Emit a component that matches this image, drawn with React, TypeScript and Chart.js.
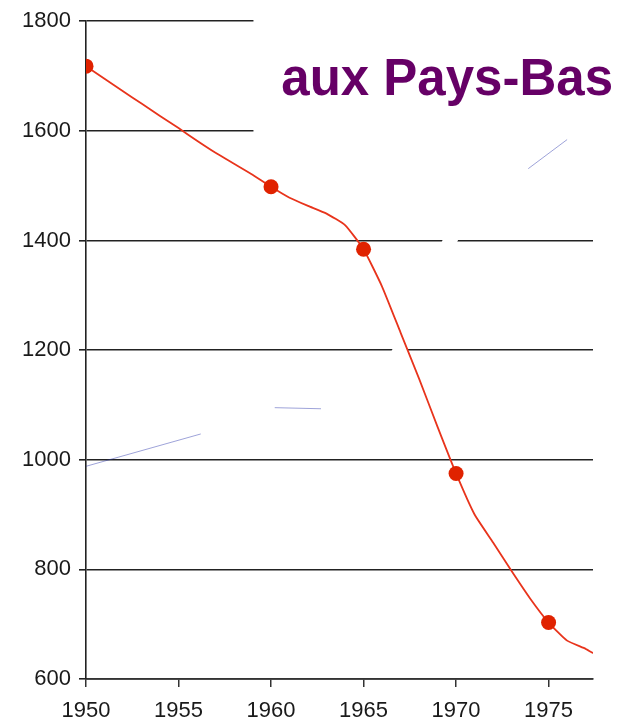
import React, { useEffect, useRef } from "react";
import { Chart, registerables } from "chart.js";

Chart.register(...registerables);

const years = [1950, 1951, 1952, 1953, 1954, 1955, 1956, 1957, 1958, 1959, 1960, 1961, 1962, 1963, 1964, 1965, 1966, 1967, 1968, 1969, 1970, 1971, 1972, 1973, 1974, 1975, 1976, 1977, 1977.4];
const values = [1718, 1695, 1672, 1650, 1627, 1605, 1582, 1560, 1540, 1520, 1498, 1478, 1463, 1449, 1428, 1384, 1316, 1232, 1148, 1060, 975, 900, 849, 797, 747, 703, 670, 655, 647];
const markerYears = [1950, 1960, 1965, 1970, 1975];

const blueYears = [1950, 1956.2, 1958, 1960.2, 1962.7, 1965, 1973.9, 1976];
const blueValues: (number | null)[] = [988, 1047, null, 1095, 1093, null, 1531, 1584];

const maskYears = [1969.95, 1966.0];
const maskValues = [1420, 1130];

const yTicks = [600, 800, 1000, 1200, 1400, 1600, 1800];
const xTicks = [1950, 1955, 1960, 1965, 1970, 1975];
const titleText = "aux Pays-Bas";

const FONT = "'Liberation Sans', Arial, Helvetica, sans-serif";

export default function App() {
  const ref = useRef<HTMLCanvasElement>(null);
  useEffect(() => {
    document.body.style.margin = "0";
    const canvas = ref.current!;
    const boxPlugin = {
      id: "titleBox",
      beforeDatasetsDraw(chart: any) {
        const { ctx, chartArea, scales } = chart;
        const x0 = scales.x.getPixelForValue(1959.05);
        const y1 = scales.y.getPixelForValue(1592);
        ctx.save();
        ctx.fillStyle = "#ffffff";
        ctx.fillRect(x0, 0, chartArea.right - x0 + 2, y1);
        ctx.restore();
      },
      afterDraw(chart: any) {
        const { ctx } = chart;
        ctx.save();
        ctx.font = `bold 51px ${FONT}`;
        ctx.fillStyle = "#660066";
        ctx.textAlign = "right";
        ctx.textBaseline = "alphabetic";
        ctx.fillText(titleText, chart.width - 9, 95);
        ctx.restore();
      },
    };
    const chart = new Chart(canvas, {
      type: "line",
      data: {
        datasets: [
          {
            data: years.map((x, i) => ({ x, y: values[i] })),
            borderColor: "#e8341c",
            borderWidth: 1.8,
            backgroundColor: "#e02200",
            pointBackgroundColor: "#e02200",
            pointBorderWidth: 0,
            pointRadius: (c: any) => (markerYears.includes(years[c.dataIndex]) ? 7.5 : 0),
            tension: 0.15,
            order: 0,
          },
          {
            data: blueYears.map((x, i) => ({ x, y: blueValues[i] })),
            borderColor: "rgba(40,50,170,0.45)",
            borderWidth: 1,
            pointRadius: 0,
            spanGaps: false,
            order: 1,
          },
          {
            data: maskYears.map((x, i) => ({ x, y: maskValues[i] })),
            borderColor: "#ffffff",
            borderWidth: 14,
            pointRadius: 0,
            order: 2,
          },
        ],
      },
      options: {
        animation: false,
        responsive: false,
        layout: { padding: { top: 19, right: 29, left: 0, bottom: 0 } },
        plugins: { legend: { display: false }, tooltip: { enabled: false } },
        scales: {
          x: {
            type: "linear",
            min: 1950,
            max: 1977.4,
            afterFit: (s: any) => { s.height = 44; },
            afterBuildTicks: (s: any) => { s.ticks = xTicks.map((v) => ({ value: v })); },
            ticks: {
              includeBounds: false,
              callback: (v: any) => String(v),
              font: { family: FONT, size: 22 },
              color: "#1a1a1a",
              padding: 11,
              maxRotation: 0,
            },
            grid: { drawOnChartArea: false, drawTicks: true, tickLength: 8, color: "#333", lineWidth: 1.5 },
            border: { display: true, color: "#333", width: 1.8 },
          },
          y: {
            type: "linear",
            min: 600,
            max: 1800,
            afterFit: (s: any) => { s.width = 86; },
            afterBuildTicks: (s: any) => { s.ticks = yTicks.map((v) => ({ value: v })); },
            ticks: {
              callback: (v: any) => String(v),
              font: { family: FONT, size: 22 },
              color: "#1a1a1a",
              padding: 8,
            },
            grid: { drawOnChartArea: true, drawTicks: true, tickLength: 7, color: "#222", lineWidth: 1.6 },
            border: { display: true, color: "#222", width: 1.6 },
          },
        },
      },
      plugins: [boxPlugin],
    } as any);
    return () => chart.destroy();
  }, []);
  return <canvas ref={ref} width={622} height={723} style={{ display: "block" }} />;
}
